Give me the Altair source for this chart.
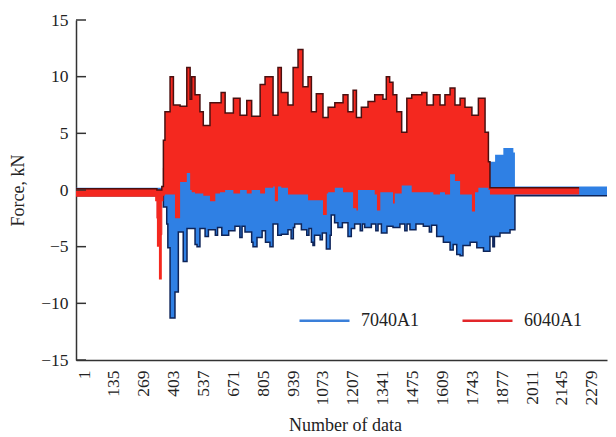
import altair as alt
import pandas as pd

# ---- data (x = number of data, y = force in kN) ----
red_x = [-35, 320, 328, 337, 350, 357, 364, 387, 402, 409,
         432, 462, 477, 484, 499, 521, 536, 566, 590, 611,
         616, 634, 671, 701, 731, 753, 791, 813, 849, 857,
         871, 886, 916, 939, 961, 983, 1006, 1021, 1043, 1073,
         1090, 1096, 1126, 1163, 1185, 1208, 1223, 1230, 1245, 1275,
         1305, 1315, 1330, 1342, 1357, 1372, 1387, 1395, 1404, 1426,
         1449, 1471, 1516, 1539, 1568, 1598, 1620, 1643, 1665, 1688,
         1710, 1741, 1755, 1770, 1800, 1815, 1822, 2222]
red_lo = [-0.6, -1.0, -5.0, -7.9, -1.0, -0.5, -0.4, -0.4, -0.4, -2.5,
          0.7, 1.5, 0.0, -0.2, -0.3, -0.3, -0.5, -1.0, -0.3, -0.2,
          -0.2, 0.0, -0.3, 0.0, -0.3, 0.0, -0.3, 0.2, 0.3, -1.0,
          0.3, 0.2, -0.4, -0.4, -0.4, -0.4, -0.9, -0.9, -0.9, -2.2,
          -0.3, -0.2, 0.2, -0.2, -0.2, -1.6, -1.8, 0.0, 0.0, 0.0,
          -0.4, -1.8, -0.2, -0.2, -0.2, -0.2, -1.2, -0.3, -0.3, 0.4,
          0.4, -0.2, -0.2, -0.2, -0.4, -0.2, -0.4, 1.4, 0.8, -0.4,
          -0.4, -1.9, -0.2, 0.2, 0.2, 0.0, -0.4, -0.4]
red_hi = [0.1, 0.1, 0.0, 0.0, 0.3, 4.4, 6.9, 10.0, 7.5, 7.5,
          7.4, 10.8, 8.0, 10.0, 8.4, 6.9, 5.7, 7.7, 7.7, 7.7,
          8.6, 6.8, 8.1, 6.6, 7.9, 6.5, 9.3, 10.0, 6.6, 6.6,
          10.8, 8.6, 7.5, 10.8, 12.4, 9.1, 10.0, 6.9, 8.5, 6.4,
          6.4, 7.3, 7.7, 8.4, 6.9, 8.8, 6.4, 6.4, 7.3, 7.8,
          8.4, 8.4, 8.4, 8.0, 10.0, 9.5, 8.4, 8.4, 6.9, 5.1,
          8.1, 8.4, 8.6, 7.5, 8.4, 7.5, 8.4, 9.0, 7.5, 8.1,
          7.3, 6.6, 6.6, 8.1, 5.1, 2.5, 0.2, 0.2]

blue_x = [-35, 357, 372, 377, 387, 409, 424, 446, 463, 499,
          508, 521, 544, 559, 590, 600, 619, 650, 678, 700,
          710, 723, 753, 759, 777, 800, 815, 835, 849, 870,
          886, 916, 930, 940, 946, 976, 1000, 1010, 1021, 1028,
          1035, 1060, 1070, 1088, 1105, 1110, 1125, 1140, 1160, 1185,
          1200, 1215, 1240, 1250, 1260, 1290, 1310, 1320, 1335, 1360,
          1387, 1418, 1440, 1450, 1463, 1490, 1523, 1550, 1560, 1583,
          1613, 1643, 1657, 1673, 1688, 1701, 1733, 1763, 1793, 1822,
          1835, 1842, 1845, 1867, 1882, 1912, 1927, 1934, 2400]
blue_lo = [-0.5, -1.5, -3.0, -5.1, -11.3, -9.0, -3.7, -6.3, -3.4, -4.8,
           -5.0, -3.4, -4.1, -3.5, -4.0, -3.3, -4.0, -3.6, -3.2, -4.2,
           -3.2, -3.7, -4.6, -5.0, -4.2, -3.6, -4.6, -5.0, -3.0, -4.0,
           -3.9, -3.5, -4.3, -3.3, -3.0, -3.5, -4.0, -3.4, -4.6, -4.9,
           -4.0, -4.4, -3.8, -5.2, -4.0, -2.2, -2.9, -3.3, -2.9, -4.1,
           -3.4, -3.0, -3.6, -3.0, -3.3, -3.0, -3.6, -3.0, -3.8, -3.2,
           -3.3, -3.0, -3.6, -3.0, -3.5, -3.0, -3.2, -3.7, -3.1, -4.1,
           -4.6, -5.3, -4.8, -5.7, -5.8, -4.9, -4.6, -5.1, -5.4, -4.1,
           -5.0, -4.1, -4.1, -3.8, -3.8, -3.5, -3.5, -0.5, -0.5]
blue_hi = [0.2, 0.2, 2.0, 2.0, 2.0, 2.0, 2.0, 2.0, 2.0, 2.0,
           2.0, 2.0, 2.0, 2.0, 2.0, 2.0, 2.0, 2.0, 2.0, 2.0,
           2.0, 2.0, 2.0, 2.0, 2.0, 2.0, 2.0, 2.0, 2.0, 2.0,
           2.0, 2.0, 2.0, 2.0, 2.0, 2.0, 2.0, 2.0, 2.0, 2.0,
           2.0, 2.0, 2.0, 2.0, 2.0, 2.0, 2.0, 2.0, 2.0, 2.0,
           2.0, 2.0, 2.0, 2.0, 2.0, 2.0, 2.0, 2.0, 2.0, 2.0,
           2.0, 2.0, 2.0, 2.0, 2.0, 2.0, 2.0, 2.0, 2.0, 2.0,
           2.0, 2.0, 2.0, 2.0, 2.0, 2.0, 2.0, 2.0, 2.0, 2.5,
           2.5, 2.5, 3.1, 3.1, 3.7, 3.7, 3.3, 0.3, 0.3]

series_names = ["7040A1", "6040A1"]
series_colors = ["#3A7FD9", "#E2262A"]
x_ticks = [1, 135, 269, 403, 537, 671, 805, 939, 1073, 1207, 1341, 1475, 1609, 1743, 1877, 2011, 2145, 2279]
y_ticks = [-15, -10, -5, 0, 5, 10, 15]

red = pd.DataFrame({"idx": red_x, "lo": red_lo, "hi": red_hi, "series": "6040A1"})
blue = pd.DataFrame({"idx": blue_x, "lo": blue_lo, "hi": blue_hi, "series": "7040A1"})
for d in (red, blue):
    d["mid"] = (d["lo"] + d["hi"]) / 2
both = pd.concat([blue, red], ignore_index=True)
ticks_df = pd.DataFrame({"v": y_ticks})

FONT = "Liberation Serif"
xs = alt.Scale(domain=[-35, 2347], nice=False, zero=False)
ys = alt.Scale(domain=[-15, 15], nice=False, zero=False)

x_axis = alt.Axis(values=x_ticks, format="d", labelAngle=270, labelFont=FONT, labelFontSize=17.5,
                  labelColor="#222", labelPadding=10, ticks=False, tickSize=0, grid=False,
                  domainColor="#333", domainWidth=1.5, labelOverlap=False, labelFlush=False,
                  title="Number of data", titleFont=FONT, titleFontSize=18, titleFontWeight="normal",
                  titleColor="#222", titleX=269, titleY=65, titleAlign="center", titleBaseline="middle")
y_axis = alt.Axis(values=y_ticks, labelFont=FONT, labelFontSize=17.5, labelColor="#222", labelPadding=8,
                  ticks=False, tickSize=0, grid=False, domainColor="#333", domainWidth=1.5,
                  title="Force, kN", titleFont=FONT, titleFontSize=18, titleFontWeight="normal",
                  titleColor="#222", titleX=-58, titleY=170, titleAngle=270, titleAlign="center",
                  titleBaseline="middle")

X = alt.X("idx:Q", scale=xs, axis=x_axis)

legend_layer = alt.Chart(both).mark_line(interpolate="step-after", strokeWidth=1, clip=True).encode(
    x=X,
    y=alt.Y("mid:Q", scale=ys, axis=y_axis),
    color=alt.Color("series:N", scale=alt.Scale(domain=series_names, range=series_colors),
                    legend=alt.Legend(title=None, orient="none", legendX=222, legendY=274,
                                      direction="horizontal", symbolType="stroke", symbolSize=2500,
                                      symbolStrokeWidth=2.5, labelFont=FONT, labelFontSize=18,
                                      labelColor="#222", labelOffset=10, columnPadding=38)),
    detail="series:N",
)

blue_area = alt.Chart(blue).mark_area(interpolate="step-after", color="#2F80E4", clip=True).encode(
    x=X, y=alt.Y("lo:Q", scale=ys, axis=y_axis), y2="hi:Q")
blue_edge = alt.Chart(blue).mark_line(interpolate="step-after", color="#0E2458", strokeWidth=1.5, clip=True).encode(
    x=X, y=alt.Y("lo:Q", scale=ys, axis=y_axis))
red_area = alt.Chart(red).mark_area(interpolate="step-after", color="#F4281F", clip=True).encode(
    x=X, y=alt.Y("lo:Q", scale=ys, axis=y_axis), y2="hi:Q")
red_edge = alt.Chart(red).mark_line(interpolate="step-after", color="#4A1010", strokeWidth=1.5, clip=True).encode(
    x=X, y=alt.Y("hi:Q", scale=ys, axis=y_axis))

tick_rules = alt.Chart(ticks_df).mark_rule(color="#333", strokeWidth=1.5).encode(
    y=alt.Y("v:Q", scale=ys, axis=y_axis), x=alt.value(0), x2=alt.value(10))

chart = alt.layer(legend_layer, blue_area, blue_edge, red_area, red_edge, tick_rules).properties(
    width=531, height=340,
    autosize=alt.AutoSizeParams(type="none"),
    padding={"left": 68, "top": 12, "right": 1, "bottom": 77},
    background="white",
).configure_view(strokeWidth=0)

chart.save("out.html", embed_options={"renderer": "svg", "actions": False})
